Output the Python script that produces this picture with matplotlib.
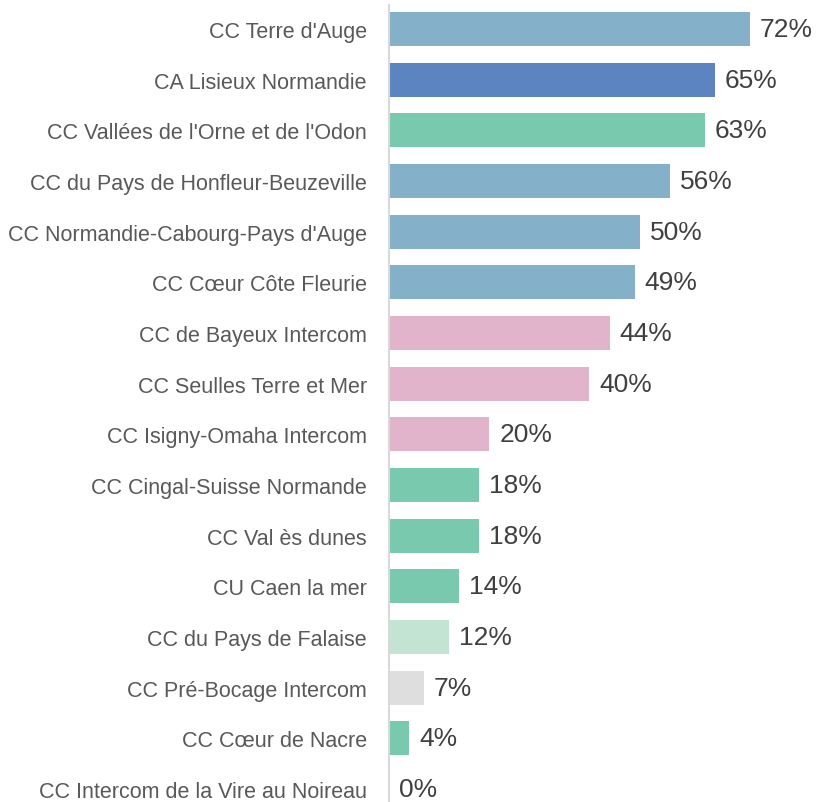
import matplotlib.pyplot as plt

# données : part par intercommunalité (%)
labels = ["CC Terre d'Auge", "CA Lisieux Normandie", "CC Vallées de l'Orne et de l'Odon",
          "CC du Pays de Honfleur-Beuzeville", "CC Normandie-Cabourg-Pays d'Auge",
          "CC Cœur Côte Fleurie", "CC de Bayeux Intercom", "CC Seulles Terre et Mer",
          "CC Isigny-Omaha Intercom", "CC Cingal-Suisse Normande", "CC Val ès dunes",
          "CU Caen la mer", "CC du Pays de Falaise", "CC Pré-Bocage Intercom",
          "CC Cœur de Nacre", "CC Intercom de la Vire au Noireau"]
values = [72, 65, 63, 56, 50, 49, 44, 40, 20, 18, 18, 14, 12, 7, 4, 0]
colors = ["#84b1c9", "#5b84c1", "#79c9ae", "#84b1c9", "#84b1c9", "#84b1c9",
          "#e2b4cc", "#e2b4cc", "#e2b4cc", "#79c9ae", "#79c9ae", "#79c9ae",
          "#c3e3d3", "#dedede", "#79c9ae", "#84b1c9"]

plt.rcParams['font.family'] = ['Liberation Sans', 'DejaVu Sans']

fig = plt.figure(figsize=(8.18, 8.03), dpi=100)
# l'axe déborde un peu en bas : la dernière ligne est coupée comme dans l'original
ax = fig.add_axes([389 / 818, -12.3 / 803, 429 / 818, 810.7 / 803])

y = list(range(len(labels)))
ax.barh(y, values, height=0.67, color=colors)
ax.set_xlim(0, 85.6)
ax.set_ylim(len(labels) - 0.5, -0.5)

for yi, v in zip(y, values):
    ax.text(v + 2.0, yi, f"{v}%", va="center", ha="left", fontsize=19, color="#404040")

ax.set_yticks(y)
ax.set_yticklabels(labels, fontsize=15.5, color="#595959")
ax.tick_params(axis="y", length=0, pad=16)
ax.set_xticks([])
for s in ["top", "right", "bottom"]:
    ax.spines[s].set_visible(False)
ax.spines["left"].set_color("#d9d9d9")
ax.spines["left"].set_linewidth(1.5)
ax.spines["left"].set_bounds(len(labels) - 0.5, -0.48)

plt.savefig("out.png", dpi=100)
